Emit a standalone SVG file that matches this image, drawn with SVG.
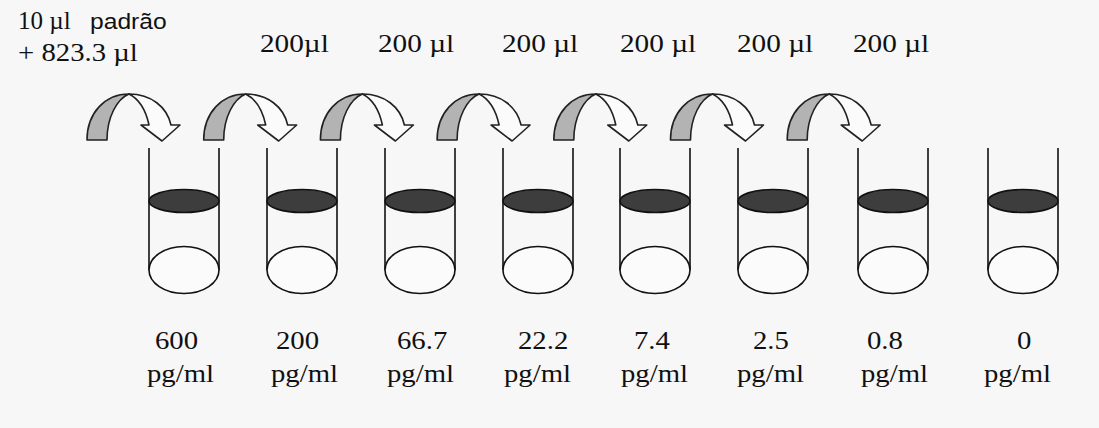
<svg xmlns="http://www.w3.org/2000/svg" width="1099" height="428" viewBox="0 0 1099 428">
  <style>
    .t { font-family: "Liberation Serif", "DejaVu Serif", "Noto Serif", "Times New Roman", Times, serif; font-size: 25px; fill: #111; }
    .s { font-family: "Liberation Sans", Arial, sans-serif; font-size: 22px; fill: #111; }
    .wall { stroke: #111; stroke-width: 1.6; fill: none; }
    .liquid { fill: #3d3d3d; stroke: #111; stroke-width: 1.6; }
    .base { fill: #fbfbfb; stroke: #111; stroke-width: 1.6; }
    .back { fill: #b3b3b3; stroke: #222; stroke-width: 1.6; stroke-linejoin: round; }
    .front { fill: #fbfbfb; stroke: #222; stroke-width: 1.6; stroke-linejoin: round; }
  </style>
  <defs>
    <!-- open tube: two walls, liquid surface and bottom -->
    <g id="tube">
      <line class="wall" x1="0" y1="148" x2="0" y2="270"/>
      <line class="wall" x1="70" y1="148" x2="70" y2="270"/>
      <ellipse class="liquid" cx="35" cy="201" rx="35" ry="11.5"/>
      <ellipse class="base" cx="35" cy="270" rx="35" ry="23.5"/>
    </g>
    <!-- curved transfer arrow -->
    <g id="transfer">
      <path class="back" d="M 87,140 C 87,113 105,94 129,94 C 117,99 107,117 107,140 Z"/>
      <path class="front" d="M 129,94 C 151,94 167,107 171,125 L 180,125 L 162,141 L 141,125 L 149,125 C 146,111 139,99 129,94 Z"/>
    </g>
  </defs>

  <rect x="0" y="0" width="1099" height="428" fill="#f7f7f7"/>

  <!-- starting volume -->
  <g id="start-label">
    <text class="t" x="18" y="29">10 µl</text>
    <text class="s" transform="translate(90,29) scale(1.12,1)">padrão</text>
    <text class="t" transform="translate(18,61) scale(1.15,1)">+ 823.3 µl</text>
  </g>

  <!-- transfer volumes -->
  <g id="transfer-labels">
    <text class="t" transform="translate(260,52) scale(1.17,1)">200µl</text>
    <text class="t" transform="translate(378,52) scale(1.17,1)">200 µl</text>
    <text class="t" transform="translate(502,52) scale(1.17,1)">200 µl</text>
    <text class="t" transform="translate(620,52) scale(1.17,1)">200 µl</text>
    <text class="t" transform="translate(737,52) scale(1.17,1)">200 µl</text>
    <text class="t" transform="translate(853,52) scale(1.17,1)">200 µl</text>
  </g>

  <!-- connectors: serial transfers -->
  <g id="connectors">
    <use href="#transfer" transform="translate(0,0)"/>
    <use href="#transfer" transform="translate(116.7,0)"/>
    <use href="#transfer" transform="translate(233.4,0)"/>
    <use href="#transfer" transform="translate(350.1,0)"/>
    <use href="#transfer" transform="translate(466.8,0)"/>
    <use href="#transfer" transform="translate(583.5,0)"/>
    <use href="#transfer" transform="translate(700.2,0)"/>
  </g>

  <!-- tubes with concentrations -->
  <g id="tube-600">
    <use href="#tube" transform="translate(149,0)"/>
    <text class="t" transform="translate(155,349) scale(1.15,1)">600</text>
    <text class="t" transform="translate(147,382) scale(1.15,1)">pg/ml</text>
  </g>
  <g id="tube-200">
    <use href="#tube" transform="translate(267,0)"/>
    <text class="t" transform="translate(276,349) scale(1.15,1)">200</text>
    <text class="t" transform="translate(271,382) scale(1.15,1)">pg/ml</text>
  </g>
  <g id="tube-66-7">
    <use href="#tube" transform="translate(385,0)"/>
    <text class="t" transform="translate(397,349) scale(1.15,1)">66.7</text>
    <text class="t" transform="translate(387,382) scale(1.15,1)">pg/ml</text>
  </g>
  <g id="tube-22-2">
    <use href="#tube" transform="translate(503,0)"/>
    <text class="t" transform="translate(518,349) scale(1.15,1)">22.2</text>
    <text class="t" transform="translate(504,382) scale(1.15,1)">pg/ml</text>
  </g>
  <g id="tube-7-4">
    <use href="#tube" transform="translate(620,0)"/>
    <text class="t" transform="translate(634,349) scale(1.15,1)">7.4</text>
    <text class="t" transform="translate(621,382) scale(1.15,1)">pg/ml</text>
  </g>
  <g id="tube-2-5">
    <use href="#tube" transform="translate(738,0)"/>
    <text class="t" transform="translate(753,349) scale(1.15,1)">2.5</text>
    <text class="t" transform="translate(737,382) scale(1.15,1)">pg/ml</text>
  </g>
  <g id="tube-0-8">
    <use href="#tube" transform="translate(858,0)"/>
    <text class="t" transform="translate(867,349) scale(1.15,1)">0.8</text>
    <text class="t" transform="translate(861,382) scale(1.15,1)">pg/ml</text>
  </g>
  <g id="tube-0">
    <use href="#tube" transform="translate(988,0)"/>
    <text class="t" transform="translate(1017,349) scale(1.15,1)">0</text>
    <text class="t" transform="translate(984,382) scale(1.15,1)">pg/ml</text>
  </g>
</svg>
